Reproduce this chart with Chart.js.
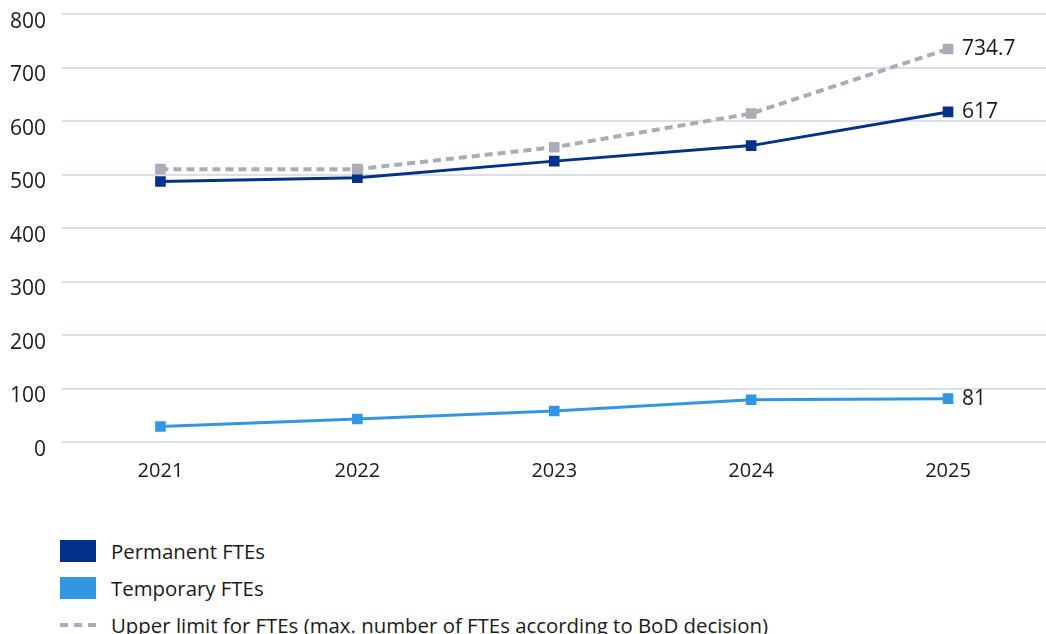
<!DOCTYPE html>
<html>
<head>
<meta charset="utf-8">
<script src="https://cdn.jsdelivr.net/npm/chart.js@4/dist/chart.umd.min.js"></script>
<style>
  html, body { margin: 0; padding: 0; background: #fff; }
  body { width: 1046px; height: 634px; position: relative; overflow: hidden; font-family: "Open Sans", "Noto Sans", sans-serif; color: #1a1a1a; }
  #wrap { position: absolute; left: 0; top: 0; width: 1054px; height: 500px; }
  .legend { position: absolute; left: 60px; top: 530px; }
  .item { position: relative; height: 37px; font-size: 20.4px; line-height: 22px; }
  .swatch { position: absolute; left: 0; top: 10px; width: 36px; height: 22px; }
  .dash { position: absolute; left: 0; top: 19px; width: 36px; height: 4px; }
  .label { position: absolute; left: 51px; top: 10px; white-space: nowrap; }
</style>
</head>
<body>
<div id="wrap"><canvas id="chart"></canvas></div>
<div class="legend" id="legend"></div>
<script>
// Staff headcount in full-time equivalents, 2021–2025
const years = ['2021', '2022', '2023', '2024', '2025'];
const permanentFTEs = [487, 494, 525, 554, 617];
const temporaryFTEs = [29, 43, 58, 79, 81];
const upperLimitFTEs = [510, 510, 551, 614, 734.7];
const yTicks = [0, 100, 200, 300, 400, 500, 600, 700, 800];

const seriesNames = {
  permanent: 'Permanent FTEs',
  temporary: 'Temporary FTEs',
  limit: 'Upper limit for FTEs (max. number of FTEs according to BoD decision)'
};

const colors = {
  permanent: '#02318a',
  temporary: '#3197e3',
  limit: '#a9adb8',
  grid: '#dcdfe5',
  text: '#1a1a1a'
};

const fontFamily = '"Open Sans", "Noto Sans", sans-serif';

// Writes the value next to the last point of every series
const endLabels = {
  id: 'endLabels',
  afterDatasetsDraw(chart) {
    const ctx = chart.ctx;
    ctx.save();
    ctx.font = '21px ' + fontFamily;
    ctx.fillStyle = colors.text;
    ctx.textAlign = 'left';
    ctx.textBaseline = 'middle';
    chart.data.datasets.forEach((ds, i) => {
      const meta = chart.getDatasetMeta(i);
      const last = meta.data[meta.data.length - 1];
      const v = ds.data[ds.data.length - 1];
      ctx.fillText(String(v), last.x + 14, last.y);
    });
    ctx.restore();
  }
};

const pointBase = { pointStyle: 'rect', pointRadius: 7.5, pointHoverRadius: 7.5, pointBorderWidth: 0, tension: 0, fill: false };

new Chart(document.getElementById('chart'), {
  type: 'line',
  data: {
    labels: years,
    datasets: [
      Object.assign({}, pointBase, {
        label: seriesNames.limit,
        data: upperLimitFTEs,
        borderColor: colors.limit,
        backgroundColor: colors.limit,
        pointBackgroundColor: colors.limit,
        borderWidth: 4,
        borderDash: [8, 5]
      }),
      Object.assign({}, pointBase, {
        label: seriesNames.permanent,
        data: permanentFTEs,
        borderColor: colors.permanent,
        backgroundColor: colors.permanent,
        pointBackgroundColor: colors.permanent,
        borderWidth: 3
      }),
      Object.assign({}, pointBase, {
        label: seriesNames.temporary,
        data: temporaryFTEs,
        borderColor: colors.temporary,
        backgroundColor: colors.temporary,
        pointBackgroundColor: colors.temporary,
        borderWidth: 3
      })
    ]
  },
  options: {
    responsive: true,
    maintainAspectRatio: false,
    animation: false,
    layout: { padding: { top: 14, right: 0, bottom: 0, left: 0 } },
    plugins: {
      legend: { display: false },
      tooltip: { enabled: false }
    },
    scales: {
      x: {
        offset: true,
        grid: { display: false, drawTicks: false },
        border: { display: false },
        ticks: { color: colors.text, font: { family: fontFamily, size: 20 }, padding: 17 }
      },
      y: {
        min: 0,
        max: 800,
        afterBuildTicks: (s) => { s.ticks = yTicks.map(v => ({ value: v })); },
        afterFit: (s) => { s.width = 62; s.paddingTop = 0; s.paddingBottom = 0; },
        grid: { color: colors.grid, lineWidth: 2, drawTicks: false },
        border: { display: false },
        ticks: { color: colors.text, font: { family: fontFamily, size: 21 }, padding: 16, labelOffset: 8 }
      }
    }
  },
  plugins: [endLabels]
});

// Legend below the plot
const legend = document.getElementById('legend');
[
  { name: seriesNames.permanent, color: colors.permanent, dashed: false },
  { name: seriesNames.temporary, color: colors.temporary, dashed: false },
  { name: seriesNames.limit, color: colors.limit, dashed: true }
].forEach(it => {
  const row = document.createElement('div');
  row.className = 'item';
  const mark = document.createElement('div');
  if (it.dashed) {
    mark.className = 'dash';
    mark.style.background = 'repeating-linear-gradient(90deg,' + it.color + ' 0 8px, transparent 8px 14px)';
  } else {
    mark.className = 'swatch';
    mark.style.background = it.color;
  }
  const txt = document.createElement('div');
  txt.className = 'label';
  txt.textContent = it.name;
  row.appendChild(mark);
  row.appendChild(txt);
  legend.appendChild(row);
});
</script>
</body>
</html>
